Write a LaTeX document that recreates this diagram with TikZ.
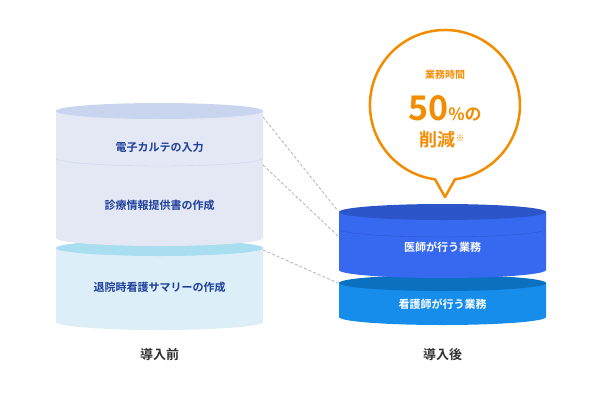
\documentclass[tikz,border=0pt]{standalone}
\usepackage{fontspec}
\setmainfont{Noto Sans CJK JP}[BoldFont={Noto Sans CJK JP Bold}]
\usetikzlibrary{positioning}
\definecolor{paleLav}{HTML}{E3E8F4}
\definecolor{paleLavTop}{HTML}{C9D5EE}
\definecolor{paleSky}{HTML}{DCEFF8}
\definecolor{paleSkyTop}{HTML}{A9DDF0}
\definecolor{navyText}{HTML}{1E3F9A}
\definecolor{docBlue}{HTML}{3768F0}
\definecolor{docBlueTop}{HTML}{2B55C8}
\definecolor{nurseBlue}{HTML}{168DEB}
\definecolor{nurseBlueTop}{HTML}{0B70C0}
\definecolor{accentOrange}{HTML}{F28C00}

\begin{document}
\begin{tikzpicture}[x=1pt,y=-1pt,
	label/.style={font=\bfseries\fontsize{11}{13}\selectfont},
	caption/.style={font=\bfseries\fontsize{13}{15}\selectfont,text=black!80},
	link/.style={gray!60,densely dashed,thick}]
	\useasboundingbox (0,0) rectangle (600,400);
	% before
	\fill[paleSky] (56,248) -- (56,322) arc[start angle=180,end angle=0,x radius=103.5,y radius=8] -- (263,248) -- cycle;
	\fill[paleSkyTop] (159.5,248) ellipse[x radius=103.5,y radius=8];
	\fill[paleLav] (56,111) -- (56,238) arc[start angle=180,end angle=0,x radius=103.5,y radius=8] -- (263,111) -- cycle;
	\fill[paleLavTop] (159.5,111) ellipse[x radius=103.5,y radius=8];
	\draw[paleLavTop] (56,158) arc[start angle=180,end angle=0,x radius=103.5,y radius=8];
	\node[label,text=navyText] (emr) at (159.5,147) {電子カルテの入力};
	\node[label,text=navyText] (referral) at (159.5,205) {診療情報提供書の作成};
	\node[label,text=navyText] (summary) at (159.5,287) {退院時看護サマリーの作成};
	\node[caption] (before) at (159.5,355) {導入前};
	% after
	\fill[nurseBlue] (339,283) -- (339,317) arc[start angle=180,end angle=0,x radius=103.5,y radius=8] -- (546,283) -- cycle;
	\fill[nurseBlueTop] (442.5,283) ellipse[x radius=103.5,y radius=8];
	\fill[docBlue] (339,212) -- (339,270) arc[start angle=180,end angle=0,x radius=103.5,y radius=8] -- (546,212) -- cycle;
	\fill[docBlueTop] (442.5,212) ellipse[x radius=103.5,y radius=8];
	\draw[docBlueTop] (339,229) arc[start angle=180,end angle=0,x radius=103.5,y radius=8];
	\node[label,text=white] (doctor) at (442.5,247) {医師が行う業務};
	\node[label,text=white] (nurse) at (442.5,304) {看護師が行う業務};
	\node[caption] (after) at (442.5,355) {導入後};
	% links
	\coordinate (a1) at (263,117); \coordinate (b1) at (338,211);
	\coordinate (a2) at (263,165); \coordinate (b2) at (338,236);
	\coordinate (a3) at (263,250); \coordinate (b3) at (338,283);
	\draw[link] (a1) -- (b1);
	\draw[link] (a2) -- (b2);
	\draw[link] (a3) -- (b3);
	% bubble
	\draw[accentOrange,line width=2.5pt,fill=white,line join=round] (435,179.3) -- (445,197) -- (455,179.3)
		arc[start angle=82.3,end angle=-262.3,radius=75] -- cycle;
	\node[text=accentOrange,font=\bfseries\fontsize{10}{12}\selectfont] (hours) at (445,75) {業務時間};
	\node[text=accentOrange,font=\bfseries\fontsize{17}{20}\selectfont] (cut) at (445,108)
		{{\fontsize{34}{36}\selectfont 50}\%の};
	\node[text=accentOrange,font=\bfseries\fontsize{18}{20}\selectfont] (cut2) at (442,140)
		{削減{\fontsize{9}{10}\selectfont\raisebox{1.1ex}{※}}};
\end{tikzpicture}
\end{document}
